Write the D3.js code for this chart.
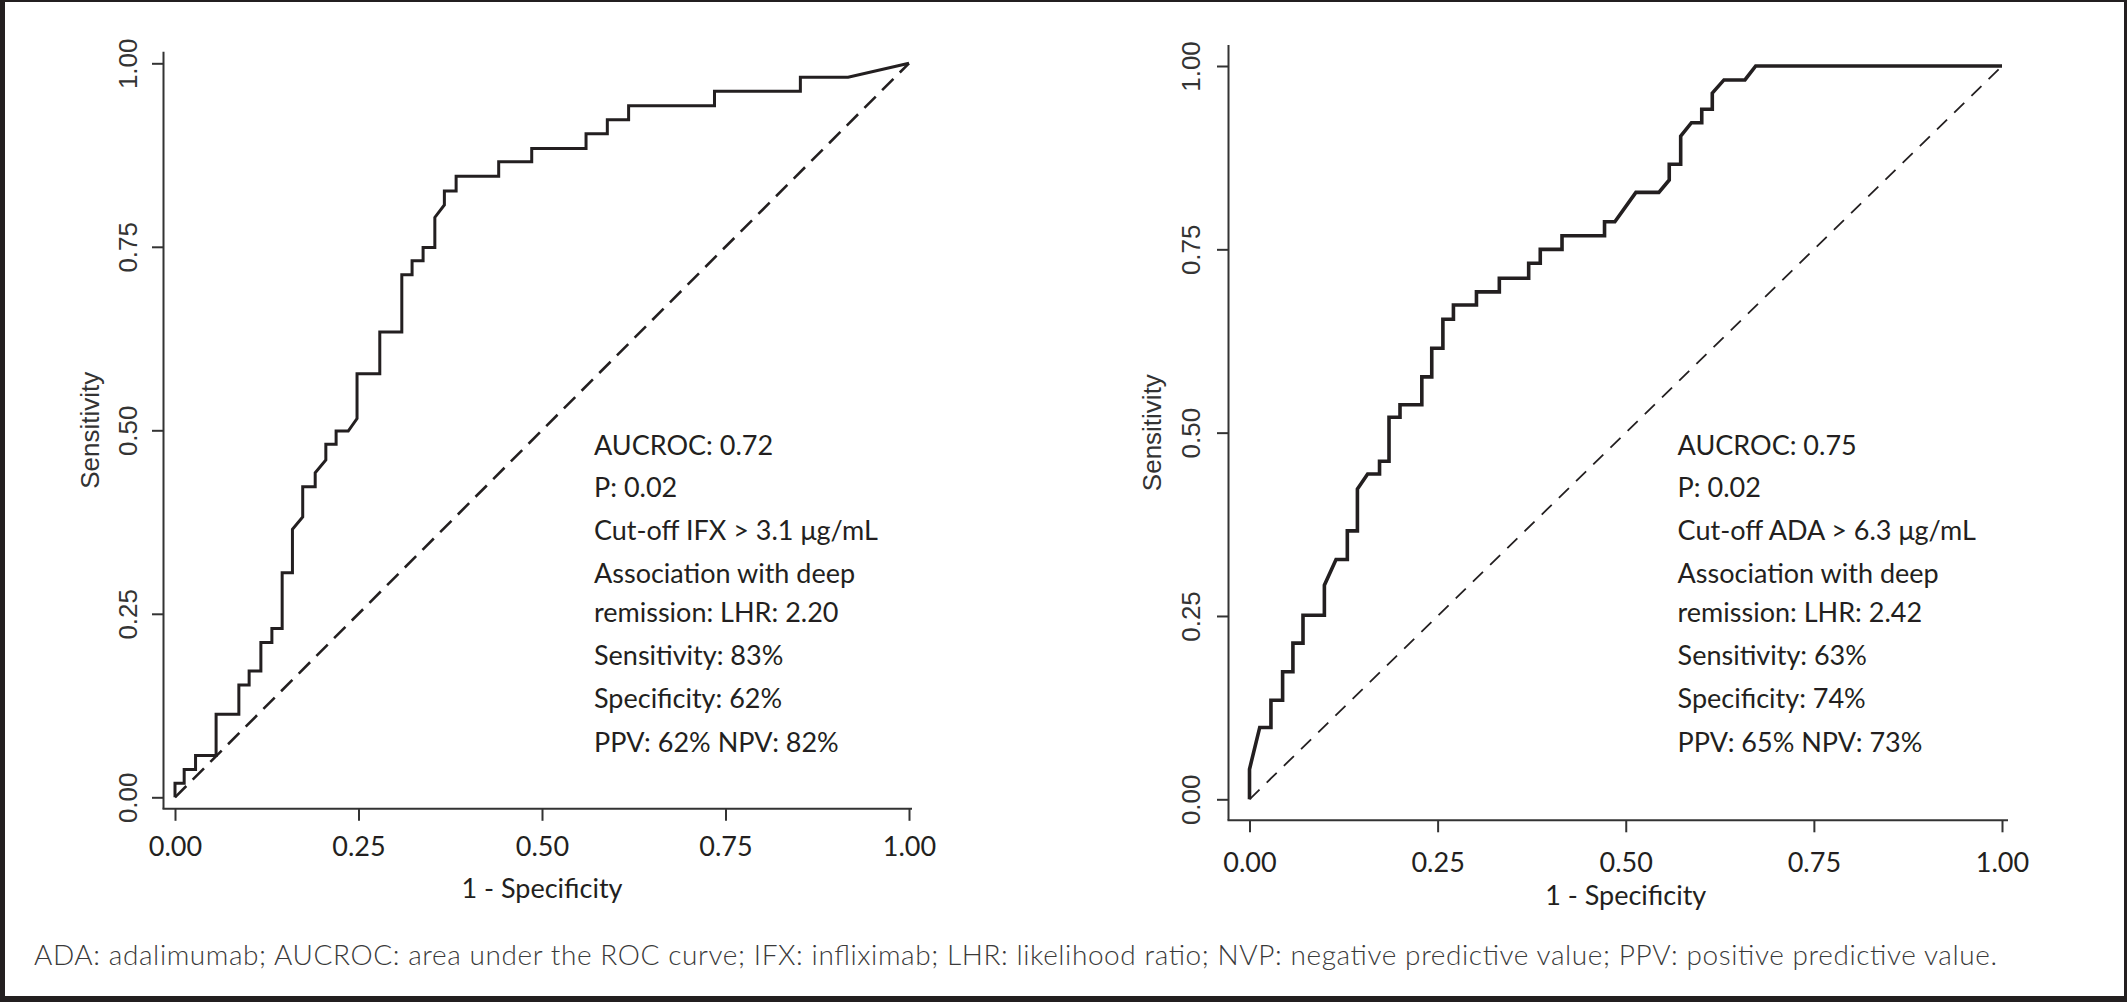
<!DOCTYPE html>
<html>
<head>
<meta charset="utf-8">
<script src="https://cdn.jsdelivr.net/npm/d3@7"></script>
<style>
  html, body { margin: 0; padding: 0; background: #fff; }
  svg { display: block; }
</style>
</head>
<body>
<svg id="chart" width="2127" height="1002"></svg>
<script>
// ---------------- DATA ----------------
const tickValues = [0, 0.25, 0.5, 0.75, 1];
const tickLabels = ["0.00", "0.25", "0.50", "0.75", "1.00"];
const xTitle = "1 - Specificity";
const yTitle = "Sensitivity";

// IFX ROC curve (1 - specificity, sensitivity), vertices of the step curve
const ifxFPR = [0, 0, 0.0125, 0.0125, 0.028, 0.028, 0.056, 0.056, 0.087, 0.087, 0.101, 0.101, 0.117, 0.117,
  0.132, 0.132, 0.146, 0.146, 0.160, 0.160, 0.174, 0.174, 0.191, 0.191, 0.2055, 0.2055, 0.2195, 0.2195,
  0.236, 0.248, 0.248, 0.279, 0.279, 0.309, 0.309, 0.323, 0.323, 0.338, 0.338, 0.354, 0.354, 0.367, 0.367,
  0.383, 0.383, 0.441, 0.441, 0.486, 0.486, 0.560, 0.560, 0.589, 0.589, 0.618, 0.618, 0.735, 0.735,
  0.852, 0.852, 0.917, 1];
const ifxTPR = [0, 0.019, 0.019, 0.038, 0.038, 0.057, 0.057, 0.113, 0.113, 0.153, 0.153, 0.172, 0.172, 0.211,
  0.211, 0.230, 0.230, 0.306, 0.306, 0.365, 0.382, 0.423, 0.423, 0.442, 0.4595, 0.481, 0.481, 0.499,
  0.499, 0.516, 0.577, 0.577, 0.634, 0.634, 0.712, 0.712, 0.731, 0.731, 0.749, 0.749, 0.790, 0.807, 0.826,
  0.826, 0.846, 0.846, 0.866, 0.866, 0.884, 0.884, 0.904, 0.904, 0.923, 0.923, 0.942, 0.942, 0.962,
  0.962, 0.981, 0.981, 1];

// ADA ROC curve
const adaFPR = [0, 0, 0.0136, 0.0285, 0.0285, 0.044, 0.044, 0.0577, 0.0577, 0.0711, 0.0711, 0.0995, 0.0995,
  0.115, 0.130, 0.130, 0.1434, 0.1434, 0.157, 0.1728, 0.1728, 0.1854, 0.1854, 0.200, 0.200, 0.229, 0.229,
  0.2422, 0.2422, 0.257, 0.257, 0.271, 0.271, 0.3016, 0.3016, 0.332, 0.332, 0.371, 0.371, 0.3864, 0.3864,
  0.4153, 0.4153, 0.4718, 0.4718, 0.4855, 0.5135, 0.544, 0.5578, 0.5578, 0.573, 0.573, 0.5873, 0.601,
  0.601, 0.615, 0.615, 0.6305, 0.6584, 0.6727, 1];
const adaTPR = [0, 0.041, 0.098, 0.098, 0.135, 0.135, 0.174, 0.174, 0.213, 0.213, 0.251, 0.251, 0.292,
  0.327, 0.327, 0.366, 0.366, 0.423, 0.4436, 0.4436, 0.461, 0.461, 0.521, 0.521, 0.538, 0.538, 0.576,
  0.576, 0.615, 0.615, 0.6546, 0.6546, 0.674, 0.674, 0.692, 0.692, 0.7105, 0.7105, 0.731, 0.731, 0.750,
  0.750, 0.7686, 0.7686, 0.7877, 0.7877, 0.8277, 0.8277, 0.8445, 0.866, 0.866, 0.9045, 0.9227, 0.9227,
  0.941, 0.941, 0.963, 0.981, 0.981, 1.0, 1];

const ifxStats = ["AUCROC: 0.72", "P: 0.02", "Cut-off IFX > 3.1 μg/mL", "Association with deep",
  "remission: LHR: 2.20", "Sensitivity: 83%", "Specificity: 62%", "PPV: 62% NPV: 82%"];
const adaStats = ["AUCROC: 0.75", "P: 0.02", "Cut-off ADA > 6.3 μg/mL", "Association with deep",
  "remission: LHR: 2.42", "Sensitivity: 63%", "Specificity: 74%", "PPV: 65% NPV: 73%"];

const footnote = "ADA: adalimumab; AUCROC: area under the ROC curve; IFX: infliximab; LHR: likelihood ratio; NVP: negative predictive value; PPV: positive predictive value.";

// ---------------- LAYOUT ----------------
const statBaselines = [455, 497, 540, 583, 622, 665, 708, 752];
const panels = [
  { fpr: ifxFPR, tpr: ifxTPR, stats: ifxStats,
    x0: 175, x1: 909, yb: 797.3, yt: 63.3, margin: 11.5, xEnd: 912,
    yTickLabelDx: -27, yTitleX: 99, xTickLabelDy: 47.7, xTitleY: 898,
    statX: 594, curveW: 3, diagW: 2.6, diagDash: "16,9" },
  { fpr: adaFPR, tpr: adaTPR, stats: adaStats,
    x0: 1249.5, x1: 2002, yb: 799.3, yt: 66, margin: 21, xEnd: 2008,
    yTickLabelDx: -29, yTitleX: 1161, xTickLabelDy: 52, xTitleY: 905,
    statX: 1677.6, curveW: 3.6, diagW: 1.8, diagDash: "14,10" }
];

const ink = "#231f20";
const svg = d3.select("#chart");

// frame
svg.append("rect").attr("x", 0).attr("y", 0).attr("width", 2127).attr("height", 1002).attr("fill", "#fff");
svg.append("rect").attr("x", 0).attr("y", 0).attr("width", 5).attr("height", 1002).attr("fill", ink);
svg.append("rect").attr("x", 0).attr("y", 996).attr("width", 2127).attr("height", 6).attr("fill", ink);
svg.append("rect").attr("x", 0).attr("y", 0).attr("width", 2127).attr("height", 2).attr("fill", ink);
svg.append("rect").attr("x", 2124).attr("y", 0).attr("width", 3).attr("height", 1002).attr("fill", ink);

panels.forEach(p => {
  const x = d3.scaleLinear().domain([0, 1]).range([p.x0, p.x1]);
  const y = d3.scaleLinear().domain([0, 1]).range([p.yb, p.yt]);
  const axisX = p.x0 - p.margin;
  const axisY = p.yb + p.margin;
  const g = svg.append("g");

  // axis lines
  g.append("line").attr("x1", axisX).attr("x2", axisX)
    .attr("y1", p.yt - p.margin).attr("y2", axisY)
    .attr("stroke", "#333").attr("stroke-width", 2);
  g.append("line").attr("x1", axisX - 1).attr("x2", p.xEnd)
    .attr("y1", axisY).attr("y2", axisY)
    .attr("stroke", "#333").attr("stroke-width", 2);

  // y axis
  const yAxis = d3.axisLeft(y).tickValues(tickValues)
    .tickFormat((d, i) => tickLabels[i]).tickSize(11.5).tickSizeOuter(0);
  const ya = g.append("g").attr("transform", `translate(${axisX},0)`).call(yAxis);
  ya.select(".domain").remove();
  ya.selectAll(".tick line").attr("stroke", "#333").attr("stroke-width", 2);
  ya.selectAll(".tick text")
    .attr("transform", "rotate(-90)")
    .attr("x", 0).attr("y", p.yTickLabelDx).attr("dy", 0)
    .attr("text-anchor", "middle")
    .attr("font-family", "'Liberation Sans', Arial, sans-serif")
    .attr("font-size", 26).attr("fill", "#333");

  // x axis
  const xAxis = d3.axisBottom(x).tickValues(tickValues)
    .tickFormat((d, i) => tickLabels[i]).tickSize(12).tickSizeOuter(0);
  const xa = g.append("g").attr("transform", `translate(0,${axisY})`).call(xAxis);
  xa.select(".domain").remove();
  xa.selectAll(".tick line").attr("stroke", "#333").attr("stroke-width", 2);
  xa.selectAll(".tick text")
    .attr("y", p.xTickLabelDy).attr("dy", 0)
    .attr("font-family", "Lato, 'Open Sans', sans-serif")
    .attr("font-size", 27).attr("fill", ink);

  // titles
  g.append("text")
    .attr("transform", `translate(${p.yTitleX},${(p.yt + p.yb) / 2}) rotate(-90)`)
    .attr("text-anchor", "middle")
    .attr("font-family", "'Liberation Sans', Arial, sans-serif")
    .attr("font-size", 26).attr("fill", "#333")
    .text(yTitle);
  g.append("text")
    .attr("x", x(0.5)).attr("y", p.xTitleY)
    .attr("text-anchor", "middle")
    .attr("font-family", "Lato, 'Open Sans', sans-serif")
    .attr("font-size", 27).attr("fill", ink)
    .text(xTitle);

  // reference diagonal
  const diag = d3.line().x(d => x(d[0])).y(d => y(d[1]));
  g.append("path").attr("d", diag([[0, 0], [1, 1]]))
    .attr("fill", "none").attr("stroke", ink)
    .attr("stroke-width", p.diagW).attr("stroke-dasharray", p.diagDash);

  // ROC curve
  const pts = p.fpr.map((f, i) => [f, p.tpr[i]]);
  const line = d3.line().x(d => x(d[0])).y(d => y(d[1]));
  g.append("path").attr("d", line(pts))
    .attr("fill", "none").attr("stroke", ink)
    .attr("stroke-width", p.curveW).attr("stroke-linejoin", "miter");

  // stats text
  g.selectAll(".stat").data(p.stats).enter().append("text")
    .attr("x", p.statX).attr("y", (d, i) => statBaselines[i])
    .attr("font-family", "Lato, 'Open Sans', sans-serif")
    .attr("font-size", 27).attr("fill", ink)
    .text(d => d);
});

// footnote
svg.append("text")
  .attr("x", 34).attr("y", 965)
  .attr("font-family", "Lato, 'Open Sans', sans-serif")
  .attr("font-weight", 300)
  .attr("font-size", 28)
  .attr("textLength", 1963).attr("lengthAdjust", "spacing")
  .attr("fill", "#3a3a3a")
  .text(footnote);
</script>
</body>
</html>
